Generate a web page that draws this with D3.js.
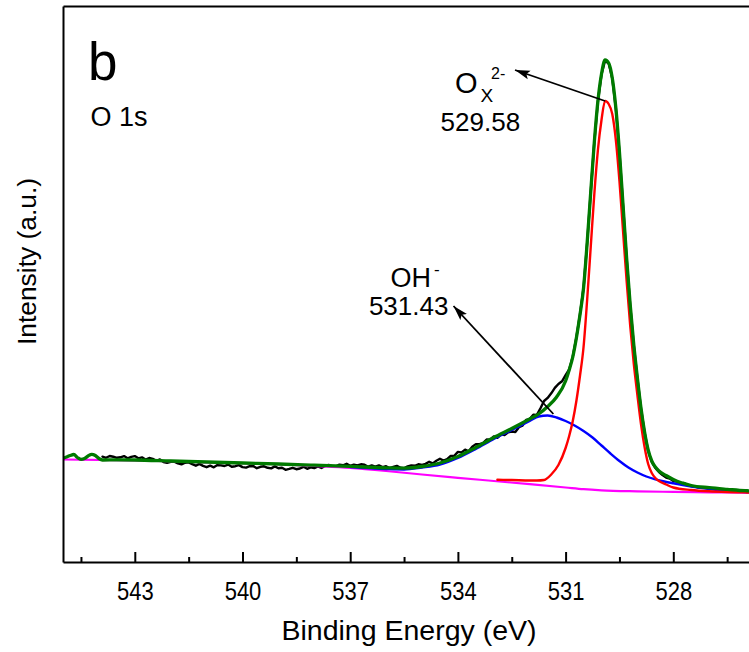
<!DOCTYPE html>
<html>
<head>
<meta charset="utf-8">
<script src="https://cdn.jsdelivr.net/npm/d3@7"></script>
<style>
  html, body { margin: 0; padding: 0; background: #fff; }
  svg { display: block; font-family: "Liberation Sans", Arial, sans-serif; }
</style>
</head>
<body>
<svg id="chart" width="749" height="652"></svg>
<script>
// XPS O 1s region: binding energy (eV) vs intensity (a.u.)

// measured spectrum [binding energy, counts]
const rawSpectrum = [
  [543.9,1053],[543.8,1042],[543.7,1060],[543.6,1053],[543.5,1042],[543.4,1047],[543.3,1059],[543.2,1037],[543.1,1051],[543.0,1059],
  [542.9,1037],[542.8,1046],[542.7,1025],[542.6,1040],[542.5,1031],[542.4,1012],[542.3,1026],[542.2,1000],[542.1,991],[542.0,1002],
  [541.9,1003],[541.8,986],[541.7,976],[541.6,993],[541.5,996],[541.4,979],[541.3,963],[541.2,981],[541.1,961],[541.0,948],
  [540.9,963],[540.8,947],[540.7,969],[540.6,966],[540.5,960],[540.4,974],[540.3,952],[540.2,958],[540.1,969],[540.0,949],
  [539.9,944],[539.8,958],[539.7,959],[539.6,938],[539.5,952],[539.4,957],[539.3,942],[539.2,936],[539.1,956],[539.0,937],
  [538.9,943],[538.8,922],[538.7,931],[538.6,942],[538.5,928],[538.4,935],[538.3,952],[538.2,932],[538.1,947],[538.0,939],
  [537.9,956],[537.8,940],[537.7,960],[537.6,970],[537.5,959],[537.4,956],[537.3,973],[537.2,967],[537.1,982],[537.0,962],
  [536.9,974],[536.8,965],[536.7,977],[536.6,973],[536.5,953],[536.4,965],[536.3,953],[536.2,966],[536.1,949],[536.0,958],
  [535.9,938],[535.8,950],[535.7,961],[535.6,942],[535.5,938],[535.4,957],[535.3,965],[535.2,962],[535.1,977],[535.0,970],
  [534.9,981],[534.8,1002],[534.7,986],[534.6,1012],[534.5,1032],[534.4,1014],[534.3,1028],[534.2,1060],[534.1,1062],[534.0,1101],
  [533.9,1096],[533.8,1123],[533.7,1107],[533.6,1153],[533.5,1179],[533.4,1178],[533.3,1189],[533.2,1225],[533.1,1224],[533.0,1256],
  [532.9,1241],[532.8,1276],[532.7,1270],[532.6,1297],[532.5,1305],[532.4,1300],[532.3,1348],[532.2,1363],[532.1,1420],[532.0,1429],
  [531.9,1472],[531.8,1471],[531.7,1537],[531.6,1610],[531.5,1641],[531.4,1687],[531.3,1741],[531.2,1780],[531.1,1807],[531.0,1868],
  [530.9,1925],[530.8,2055],[530.7,2245],[530.6,2475],[530.5,2740],[530.4,3190],[530.3,3700],[530.2,4200],[530.1,4605],[530.0,4875],
  [529.9,5015],[529.8,4985],[529.7,4835],[529.6,4535],[529.5,4095],[529.4,3565],[529.3,3035],[529.2,2565],[529.1,2165],[529.0,1835],
  [528.9,1535],[528.8,1295],[528.7,1110],[528.6,1000],[528.5,940],[528.4,900],[528.3,870],[528.2,845],[528.1,835],[528.0,810],
  [527.9,805],[527.8,785],[527.7,790],[527.6,770],[527.5,760],[527.4,755],[527.3,745],[527.2,745]
];

// fitted envelope (sum of components + background)
const envelopeFit = [
  [545.0,1037],[544.9,1050],[544.8,1065],[544.7,1075],[544.6,1045],[544.5,1027],[544.4,1035],[544.3,1060],
  [544.2,1077],[544.1,1065],[544.0,1035],[543.9,1020],[543.5,1022],[543.0,1020],[542.0,1010],[541.0,1000],
  [540.0,990],[539.0,980],[538.0,968],[537.0,956],[536.0,942],[535.5,938],[535.0,955],[534.5,990],
  [534.0,1055],[533.5,1145],[533.0,1245],[532.5,1335],[532.0,1430],[531.75,1480],[531.5,1555],[531.25,1650],
  [531.0,1810],[530.9,1920],[530.8,2050],[530.7,2240],[530.6,2470],[530.5,2740],[530.4,3190],[530.3,3700],
  [530.2,4200],[530.1,4610],[530.0,4880],[529.9,5020],[529.8,4990],[529.7,4840],[529.6,4540],[529.5,4100],
  [529.4,3570],[529.3,3040],[529.2,2570],[529.1,2170],[529.0,1840],[528.9,1540],[528.8,1300],[528.7,1120],
  [528.6,1010],[528.5,950],[528.4,910],[528.2,865],[528.0,825],[527.5,765],[527.0,743],[526.5,727],
  [526.0,713],[525.9,712]
];

// hydroxide component (on background)
const peakOH = [
  [537.0,950],[536.0,930],[535.5,925],[535.0,945],[534.5,975],[534.0,1040],[533.5,1130],[533.0,1230],
  [532.5,1320],[532.0,1410],[531.75,1455],[531.5,1465],[531.25,1445],[531.0,1410],[530.75,1365],[530.5,1310],
  [530.25,1245],[530.0,1165],[529.75,1085],[529.5,1010],[529.25,945],[529.0,895],[528.75,855],[528.5,827],
  [528.25,805],[528.0,787],[527.5,755],[527.0,730],[526.5,712],[526.0,700],[525.9,699]
];

// lattice oxygen component (on background)
const peakOx = [
  [532.9,822],[532.5,820],[532.0,815],[531.8,815],[531.6,820],[531.4,875],[531.2,970],[531.0,1140],
  [530.9,1260],[530.8,1410],[530.7,1610],[530.6,1860],[530.5,2150],[530.4,2620],[530.3,3150],[530.2,3680],
  [530.1,4120],[530.0,4420],[529.9,4610],[529.8,4580],[529.7,4480],[529.6,4220],[529.5,3810],[529.4,3310],
  [529.3,2810],[529.2,2360],[529.1,1980],[529.0,1670],[528.9,1380],[528.8,1150],[528.7,980],[528.6,890],
  [528.5,840],[528.4,810],[528.2,775],[528.0,745],[527.5,720],[527.0,707],[526.5,700],[526.0,696],[525.9,695]
];

// background
const shirleyBackground = [
  [545.0,1025],[543.0,1017],[541.0,997],[540.0,988],[539.0,978],[538.0,960],[537.0,940],[536.0,910],
  [535.0,875],[534.0,842],[533.0,810],[532.0,778],[531.0,745],[530.5,728],[530.0,717],[529.0,707],
  [528.0,701],[527.0,697],[526.0,694],[525.9,693]
];

const xTicks = [543, 540, 537, 534, 531, 528];
const xMinorTicks = [544.5, 541.5, 538.5, 535.5, 532.5, 529.5, 526.5];

// arrow tails sit on the component curves
const ox = { energy: 529.9, counts: 4610, label: "529.58" };
const oh = { energy: 531.34, counts: 1480, label: "531.43" };

const svg = d3.select("#chart");
const plot = { left: 63, top: 6, bottom: 562, right: 781 };

const x = d3.scaleLinear().domain([545, 525]).range([plot.left, plot.right]);
const y = d3.scaleLinear().domain([0, 5560]).range([plot.bottom, plot.top]);

const defs = svg.append("defs");
defs.append("clipPath").attr("id", "plotClip")
  .append("rect")
  .attr("x", plot.left).attr("y", plot.top)
  .attr("width", plot.right - plot.left).attr("height", plot.bottom - plot.top);

defs.append("marker")
  .attr("id", "arrowHead")
  .attr("markerUnits", "userSpaceOnUse")
  .attr("viewBox", "0 -5 16 10")
  .attr("refX", 15).attr("refY", 0)
  .attr("markerWidth", 16).attr("markerHeight", 10)
  .attr("orient", "auto")
  .append("path")
  .attr("d", "M0,-4.5L15,0L0,4.5L3,0Z")
  .attr("fill", "#000");

const rough = d3.line().x(d => x(d[0])).y(d => y(d[1]));
const smooth = d3.line().x(d => x(d[0])).y(d => y(d[1])).curve(d3.curveMonotoneX);

const curves = [
  { data: rawSpectrum, color: "#000000", width: 2.4, gen: rough },
  { data: shirleyBackground, color: "#ff00ff", width: 2.2, gen: smooth },
  { data: peakOH, color: "#0000ff", width: 2.4, gen: smooth },
  { data: peakOx, color: "#ff0000", width: 2.4, gen: smooth },
  { data: envelopeFit, color: "#007a00", width: 3.3, gen: smooth }
];

const plotArea = svg.append("g").attr("clip-path", "url(#plotClip)");
curves.forEach(c => {
  plotArea.append("path")
    .datum(c.data)
    .attr("fill", "none")
    .attr("stroke", c.color)
    .attr("stroke-width", c.width)
    .attr("stroke-linejoin", "round")
    .attr("stroke-linecap", "round")
    .attr("d", c.gen);
});

// frame: bottom axis with inward ticks, plain left and top edges
const gx = svg.append("g")
  .attr("transform", `translate(0,${plot.bottom})`)
  .call(d3.axisBottom(x).tickValues(xTicks).tickSize(-10).tickSizeOuter(0));
gx.attr("font-family", null).attr("font-size", null);
gx.select(".domain").attr("stroke-width", 2);
gx.selectAll(".tick line").attr("stroke-width", 2);
gx.selectAll(".tick text")
  .attr("y", 0).attr("dy", null)
  .attr("transform", "translate(0,38) scale(1,1.2)")
  .style("font-size", "22px")
  .attr("fill", "#000");

const gxMinor = svg.append("g")
  .attr("transform", `translate(0,${plot.bottom})`)
  .call(d3.axisBottom(x).tickValues(xMinorTicks).tickSize(-5).tickSizeOuter(0).tickFormat(""));
gxMinor.select(".domain").remove();
gxMinor.selectAll(".tick line").attr("stroke-width", 2);

const gy = svg.append("g")
  .attr("transform", `translate(${plot.left},0)`)
  .call(d3.axisLeft(y).tickValues([]).tickSizeOuter(0));
gy.select(".domain").attr("stroke-width", 2);

const gTop = svg.append("g")
  .attr("transform", `translate(0,${plot.top})`)
  .call(d3.axisTop(x).tickValues([]).tickSizeOuter(0));
gTop.select(".domain").attr("stroke-width", 2);

// axis titles
svg.append("text")
  .attr("x", 409).attr("y", 640)
  .attr("text-anchor", "middle")
  .style("font-size", "28.5px")
  .text("Binding Energy (eV)");

svg.append("text")
  .attr("transform", "translate(36,261.5) rotate(-90)")
  .attr("text-anchor", "middle")
  .style("font-size", "26.4px")
  .text("Intensity (a.u.)");

// panel letter and region
svg.append("text").attr("x", 88).attr("y", 79.5).style("font-size", "53px").text("b");
svg.append("text").attr("x", 90.4).attr("y", 126).style("font-size", "27px").text("O 1s");

// peak annotations
const oxLabel = svg.append("text");
oxLabel.append("tspan").attr("x", 455).attr("y", 92.5).style("font-size", "29px").text("O");
oxLabel.append("tspan").attr("x", 480.5).attr("y", 101.5).style("font-size", "19px").text("X");
oxLabel.append("tspan").attr("x", 491).attr("y", 79.3).style("font-size", "16px").text("2-");
svg.append("text").attr("x", 440.6).attr("y", 130.7).style("font-size", "26px").text(ox.label);

const ohLabel = svg.append("text");
ohLabel.append("tspan").attr("x", 390.4).attr("y", 286.5).style("font-size", "27px").text("OH");
ohLabel.append("tspan").attr("x", 434).attr("y", 274.5).style("font-size", "17px").text("-");
svg.append("text").attr("x", 368.9).attr("y", 315).style("font-size", "26px").text(oh.label);

const arrows = [
  { from: ox, tip: [515, 70] },
  { from: oh, tip: [453.5, 306] }
];
svg.append("g").selectAll("line")
  .data(arrows)
  .join("line")
  .attr("x1", d => x(d.from.energy))
  .attr("y1", d => y(d.from.counts))
  .attr("x2", d => d.tip[0])
  .attr("y2", d => d.tip[1])
  .attr("stroke", "#000")
  .attr("stroke-width", 1.8)
  .attr("marker-end", "url(#arrowHead)");
</script>
</body>
</html>
